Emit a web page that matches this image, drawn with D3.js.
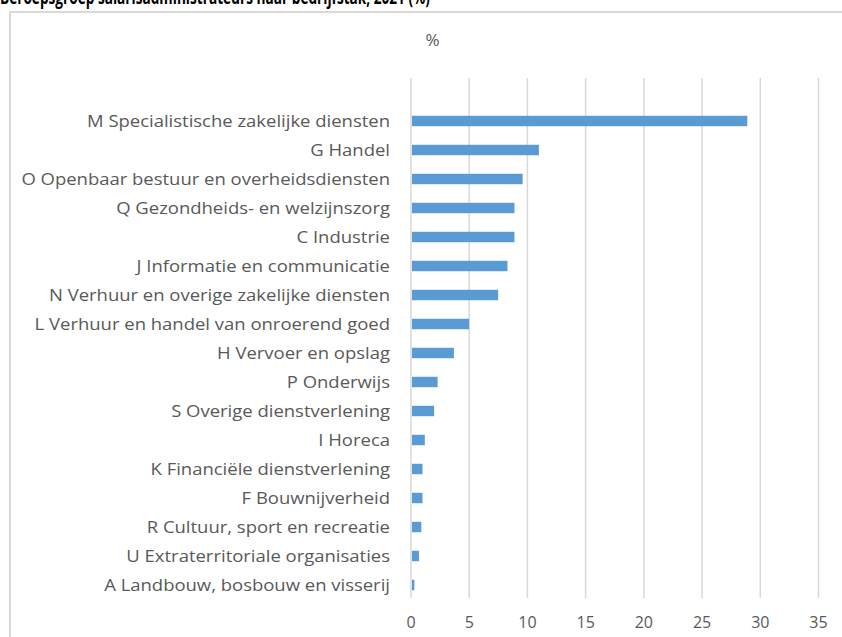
<!DOCTYPE html>
<html>
<head>
<meta charset="utf-8">
<script src="https://cdn.jsdelivr.net/npm/d3@7"></script>
<style>
  body { margin: 0; background: #fff; }
  svg { display: block; }
</style>
</head>
<body>
<svg id="chart"></svg>
<script>
const categories = [
  "M Specialistische zakelijke diensten",
  "G Handel",
  "O Openbaar bestuur en overheidsdiensten",
  "Q Gezondheids- en welzijnszorg",
  "C Industrie",
  "J Informatie en communicatie",
  "N Verhuur en overige zakelijke diensten",
  "L Verhuur en handel van onroerend goed",
  "H Vervoer en opslag",
  "P Onderwijs",
  "S Overige dienstverlening",
  "I Horeca",
  "K Financiële dienstverlening",
  "F Bouwnijverheid",
  "R Cultuur, sport en recreatie",
  "U Extraterritoriale organisaties",
  "A Landbouw, bosbouw en visserij"
]
const values = [28.8, 10.9, 9.5, 8.8, 8.8, 8.2, 7.4, 4.9, 3.6, 2.2, 1.9, 1.1, 0.9, 0.9, 0.8, 0.6, 0.2]
const xTicks = [0, 5, 10, 15, 20, 25, 30, 35]
const title = "Beroepsgroep salarisadministrateurs naar bedrijfstak, 2021 (%)"
const unitLabel = "%"

const width = 842, height = 637
const font = "'Open Sans', 'Noto Sans', sans-serif"
const textColor = "#595959"
const gridColor = "#d9d9d9"
const barColor = "#5b9bd5"

const svg = d3.select("#chart")
  .attr("width", width)
  .attr("height", height)

// outer chart frame (runs off the right and bottom of the picture)
svg.append("rect")
  .attr("x", 10).attr("y", 12)
  .attr("width", 900).attr("height", 700)
  .attr("fill", "none")
  .attr("stroke", gridColor)
  .attr("stroke-width", 2)

// title sits partly above the top edge, as in the source
svg.append("text")
  .attr("x", 0).attr("y", 4)
  .attr("font-family", "'Open Sans', sans-serif")
  .attr("font-weight", "bold")
  .attr("font-size", 19)
  .attr("textLength", 430)
  .attr("lengthAdjust", "spacingAndGlyphs")
  .attr("fill", "#000")
  .text(title)

const x = d3.scaleLinear()
  .domain([0, 35])
  .range([411, 818.5])

const y = d3.scaleBand()
  .domain(categories)
  .range([106.5, 599.5])
  .paddingInner(0.64)
  .paddingOuter(0.32)

const gridTop = 78, gridBottom = 598

svg.append("text")
  .attr("x", 432.5).attr("y", 46)
  .attr("text-anchor", "middle")
  .attr("font-family", font)
  .attr("font-size", 17)
  .attr("fill", textColor)
  .text(unitLabel)

// vertical gridlines
svg.append("g")
  .selectAll("line")
  .data(xTicks)
  .join("line")
  .attr("x1", d => x(d)).attr("x2", d => x(d))
  .attr("y1", gridTop).attr("y2", gridBottom)
  .attr("stroke", gridColor)
  .attr("stroke-width", 1.5)

// x tick labels
svg.append("g")
  .selectAll("text")
  .data(xTicks)
  .join("text")
  .attr("x", d => x(d))
  .attr("y", 628)
  .attr("text-anchor", "middle")
  .attr("font-family", font)
  .attr("font-size", 16)
  .attr("fill", textColor)
  .text(d => d)

// bars
svg.append("g")
  .selectAll("rect")
  .data(values)
  .join("rect")
  .attr("x", x(0) + 1)
  .attr("y", (d, i) => y(categories[i]))
  .attr("width", d => x(d) - x(0))
  .attr("height", y.bandwidth())
  .attr("fill", barColor)

// category labels, widened a little to match the source's wide face
const labels = svg.append("g")
  .selectAll("text")
  .data(categories)
  .join("text")
  .attr("x", 390)
  .attr("y", d => y(d) + y.bandwidth() / 2)
  .attr("dy", "0.36em")
  .attr("text-anchor", "end")
  .attr("font-family", font)
  .attr("font-size", 16)
  .attr("fill", textColor)
  .text(d => d)

const refWidth = labels.filter((d, i) => i === 0).node().getComputedTextLength()
const stretch = 303 / refWidth
labels.each(function() {
  const w = this.getComputedTextLength()
  d3.select(this)
    .attr("textLength", w * stretch)
    .attr("lengthAdjust", "spacingAndGlyphs")
})
</script>
</body>
</html>
